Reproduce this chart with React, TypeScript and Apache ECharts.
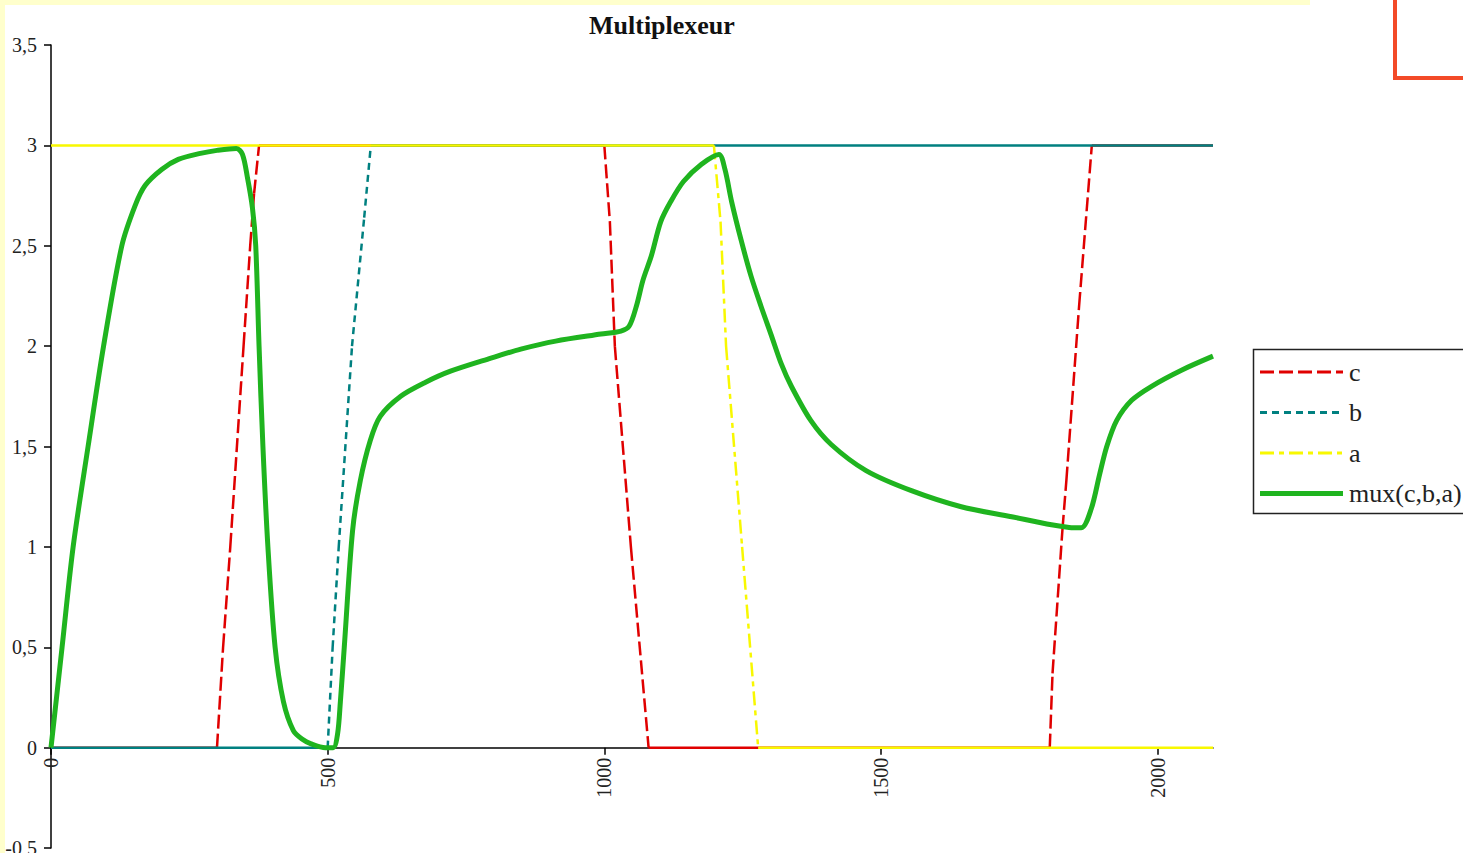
import React, { useEffect, useRef } from "react";
import * as echarts from "echarts";

const titleText = "Multiplexeur";
const seriesNames = ["c", "b", "a", "mux(c,b,a)"];

const cX = [0, 300, 311, 324, 348, 360, 367, 376, 1000, 1010, 1019, 1048, 1080, 1805, 1810, 1828, 1835, 1858, 1881, 2100];
const cY = [0, 0, 0.5, 1, 2, 2.5, 2.76, 3, 3, 2.62, 2, 1, 0, 0, 0.37, 1.09, 1.33, 2.2, 3, 3];

const bX = [0, 500, 509, 520, 544, 566, 578, 2100];
const bY = [0, 0, 0.5, 1, 2, 2.64, 3, 3];

const aX = [0, 1198, 1210, 1220, 1249, 1278, 2100];
const aY = [3, 3, 2.62, 2, 1, 0, 0];

const muxX = [0, 20, 40, 67, 95, 128, 152, 170, 200, 230, 270, 300, 335, 346, 355, 364, 370, 376, 383, 392, 405, 420, 438, 455, 469, 496, 510, 518, 523, 530, 545, 559, 577, 595, 632, 677, 722, 795, 849, 912, 994, 1030, 1045, 1058, 1070, 1085, 1102, 1120, 1143, 1175, 1207, 1218, 1230, 1247, 1265, 1283, 1301, 1320, 1338, 1373, 1410, 1473, 1555, 1645, 1736, 1808, 1840, 1862, 1880, 1895, 1908, 1926, 1953, 1989, 2043, 2100];
const muxY = [0, 0.5, 1.0, 1.5, 2.0, 2.5, 2.7, 2.8, 2.88, 2.93, 2.96, 2.975, 2.985, 2.955, 2.84, 2.69, 2.5, 2.0, 1.5, 1.0, 0.5, 0.23, 0.085, 0.04, 0.02, 0, 0, 0.07, 0.23, 0.5, 1.08, 1.33, 1.53, 1.65, 1.75, 1.82, 1.875, 1.94, 1.985, 2.025, 2.06, 2.075, 2.1, 2.2, 2.33, 2.45, 2.62, 2.72, 2.82, 2.905, 2.955, 2.88, 2.72, 2.53, 2.35, 2.2, 2.06, 1.91, 1.8, 1.63, 1.51, 1.38, 1.28, 1.2, 1.15, 1.11, 1.097, 1.095, 1.19, 1.36, 1.5, 1.63, 1.73, 1.8, 1.88, 1.95];

const xTicks = [0, 500, 1000, 1500, 2000];

const FONT = "'Liberation Serif', 'Times New Roman', serif";

const COLORS = ["#e00000", "#008080", "#f8f800", "#1fb41f"];
const DASHES: (number[] | "solid")[] = [[14, 5], [7, 5], [14, 5, 5, 5], "solid"];
const WIDTHS = [2.5, 2.5, 2.5, 5];

const Y_MIN = -0.5;
const Y_MAX = 3.5;
const GRID_TOP = 45;
const GRID_BOTTOM = 5;
const CHART_H = 853;

// split a stepped signal into its flat parts (drawn solid) and its ramps (drawn dashed)
function splitFlat(xs: number[], ys: number[]) {
  const flat: any[] = [];
  const ramp: any[] = [];
  for (let i = 0; i < xs.length - 1; i++) {
    const target = ys[i] === ys[i + 1] ? flat : ramp;
    target.push([xs[i], ys[i]], [xs[i + 1], ys[i + 1]], [xs[i + 1], "-"]);
  }
  return { flat, ramp };
}

export default function App() {
  const ref = useRef<HTMLDivElement>(null);
  useEffect(() => {
    if (!ref.current) return;
    const chart = echarts.init(ref.current, null, { renderer: "svg" });

    const signals = [
      [cX, cY],
      [bX, bY],
      [aX, aY],
    ];
    const series: any[] = [];
    signals.forEach(([xs, ys], i) => {
      const { flat, ramp } = splitFlat(xs, ys);
      series.push({
        name: seriesNames[i],
        type: "line",
        data: flat,
        symbol: "none",
        connectNulls: false,
        color: COLORS[i],
        lineStyle: { color: COLORS[i], width: WIDTHS[i], type: "solid" },
      });
      series.push({
        name: seriesNames[i],
        type: "line",
        data: ramp,
        symbol: "none",
        connectNulls: false,
        color: COLORS[i],
        lineStyle: { color: COLORS[i], width: WIDTHS[i], type: DASHES[i] },
      });
    });
    series.push({
      name: seriesNames[3],
      type: "line",
      data: muxX.map((x, i) => [x, muxY[i]]),
      symbol: "none",
      smooth: 0.3,
      color: COLORS[3],
      lineStyle: { color: COLORS[3], width: WIDTHS[3], join: "round" },
    });

    const legendTop = 372;
    const legendStep = 40.5;
    const legendItems: any[] = [];
    seriesNames.forEach((name, i) => {
      const y = legendTop + i * legendStep;
      legendItems.push({
        type: "line",
        shape: { x1: 1260, y1: y, x2: 1343, y2: y },
        style: {
          stroke: COLORS[i],
          lineWidth: i === 3 ? 5 : 3,
          lineDash: DASHES[i] === "solid" ? null : DASHES[i],
        },
        silent: true,
      });
      legendItems.push({
        type: "text",
        x: 1349,
        y: y,
        style: {
          text: name,
          font: `26px ${FONT}`,
          fill: "#222",
          verticalAlign: "middle",
          align: "left",
        },
        silent: true,
      });
    });

    // move the x axis from the grid bottom up to the value 0
    const gridH = CHART_H - GRID_TOP - GRID_BOTTOM;
    const zeroOffset = -((0 - Y_MIN) / (Y_MAX - Y_MIN)) * gridH;

    chart.setOption({
      animation: false,
      backgroundColor: "#ffffff",
      title: {
        text: titleText,
        left: 589,
        top: 12,
        padding: 0,
        textStyle: { fontFamily: FONT, fontSize: 26, fontWeight: "bold", color: "#111" },
      },
      grid: { left: 51, right: 250, top: GRID_TOP, bottom: GRID_BOTTOM, containLabel: false, outerBoundsMode: "none" },
      xAxis: {
        type: "value",
        position: "bottom",
        offset: zeroOffset,
        min: 0,
        max: 2100,
        interval: 500,
        axisLine: { onZero: false, lineStyle: { color: "#000", width: 1.5 } },
        axisTick: { show: true, length: 7, customValues: xTicks, lineStyle: { color: "#000", width: 1.5 } },
        axisLabel: {
          rotate: 90,
          margin: 10,
          customValues: xTicks,
          fontFamily: FONT,
          fontSize: 20,
          color: "#222",
          formatter: (v: number) => String(v),
        },
        splitLine: { show: false },
      },
      yAxis: {
        type: "value",
        min: Y_MIN,
        max: Y_MAX,
        interval: 0.5,
        axisLine: { show: true, lineStyle: { color: "#000", width: 1.5 } },
        axisTick: { show: true, length: 7, lineStyle: { color: "#000", width: 1.5 } },
        axisLabel: {
          margin: 14,
          fontFamily: FONT,
          fontSize: 20,
          color: "#222",
          formatter: (v: number) => String(v).replace(".", ","),
        },
        splitLine: { show: false },
      },
      series,
      graphic: [
        { type: "rect", shape: { x: 0, y: 0, width: 1310, height: 5 }, style: { fill: "#ffffcc" }, silent: true },
        { type: "rect", shape: { x: 0, y: 0, width: 5, height: 853 }, style: { fill: "#ffffcc" }, silent: true },
        {
          type: "rect",
          shape: { x: 1395, y: -20, width: 200, height: 98 },
          style: { fill: "none", stroke: "#f34a28", lineWidth: 4 },
          silent: true,
        },
        {
          type: "rect",
          shape: { x: 1253.5, y: 349.5, width: 260, height: 164 },
          style: { fill: "#fff", stroke: "#222", lineWidth: 1.5 },
          silent: true,
        },
        ...legendItems,
      ],
    });
    return () => chart.dispose();
  }, []);
  return (
    <div
      ref={ref}
      style={{ position: "fixed", left: 0, top: 0, width: 1463, height: 853 }}
    />
  );
}
